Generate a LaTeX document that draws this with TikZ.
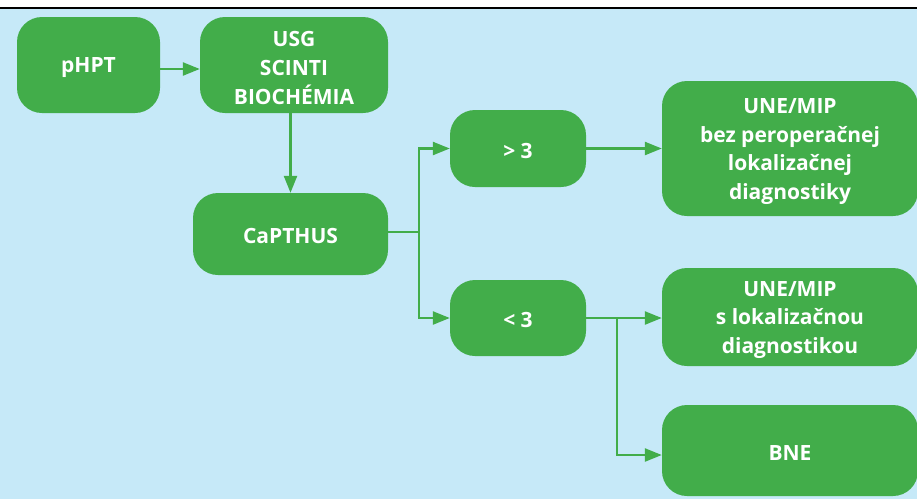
\documentclass[tikz,border=0pt]{standalone}
\usepackage{fontspec}
\setmainfont{Open Sans}
\usetikzlibrary{arrows.meta,calc}
\definecolor{bgblue}{HTML}{C6E9F8}
\definecolor{boxgreen}{HTML}{42AD4A}
\tikzset{
  box/.style={fill=boxgreen, rounded corners=25pt, inner sep=0pt},
  lbl/.style={text=white, align=center, inner sep=0pt,
    font=\fontsize{21}{28.7}\selectfont\bfseries},
  arr/.style={draw=boxgreen, line width=2.4pt, -{Triangle[length=17pt,width=13pt]}},
  ln/.style={draw=boxgreen, line width=2.4pt}
}
\begin{document}
\begin{tikzpicture}[x=1pt,y=-1pt]
\useasboundingbox (0,0) rectangle (917,499);
\fill[white] (0,0) rectangle (917,9);
\fill[bgblue] (0,9) rectangle (917,499);
\draw[black, line width=2.4pt] (0,8) -- (917,8);

\node[box, minimum width=143pt, minimum height=96pt] (php) at (88.5,65) {};
\node[box, minimum width=188pt, minimum height=96pt] (usg) at (294,65) {};
\node[box, minimum width=195pt, minimum height=82pt] (cap) at (290.5,234) {};
\node[box, minimum width=136pt, minimum height=77pt] (gt) at (518,148.5) {};
\node[box, minimum width=136pt, minimum height=76pt] (lt) at (518,318) {};
\node[box, minimum width=256pt, minimum height=135pt] (une1) at (790,148.5) {};
\node[box, minimum width=256pt, minimum height=98pt] (une2) at (790,317) {};
\node[box, minimum width=256pt, minimum height=91pt] (bne) at (790,450.5) {};

\node[lbl] (phpT) at ([yshift=-3pt]php) {pHPT};
\node[lbl] (usgT) at ([yshift=-3pt]usg) {USG\\SCINTI\\BIOCHÉMIA};
\node[lbl] (capT) at ([yshift=-2pt]cap) {CaPTHUS};
\node[lbl] (gtT) at ([yshift=-2pt]gt) {> 3};
\node[lbl] (ltT) at ([yshift=-2pt]lt) {< 3};
\node[lbl] (une1T) at ([yshift=-3pt]une1) {UNE/MIP\\bez peroperačnej\\lokalizačnej\\diagnostiky};
\node[lbl] (une2T) at ([yshift=-3pt]une2) {UNE/MIP\\s lokalizačnou\\diagnostikou};
\node[lbl] (bneT) at ([yshift=-2pt]bne) {BNE};

\coordinate (j1) at (419,232);
\coordinate (j2) at (617,318);

\draw[arr] ([yshift=-4pt]php.east) -- ([yshift=-4pt]php.east -| usg.west);
\draw[arr] (usg.south -| cap.north) -- (cap.north);
\draw[ln] (cap.east |- j1) -- (j1);
\draw[arr] (j1) |- (gt.west);
\draw[arr] (j1) |- (lt.west);
\draw[arr] (gt.east) -- (gt.east -| une1.west);
\draw[arr] (lt.east) -- (lt.east -| une2.west);
\draw[arr] (j2) |- ([yshift=-4.5pt]bne.west);
\end{tikzpicture}
\end{document}
